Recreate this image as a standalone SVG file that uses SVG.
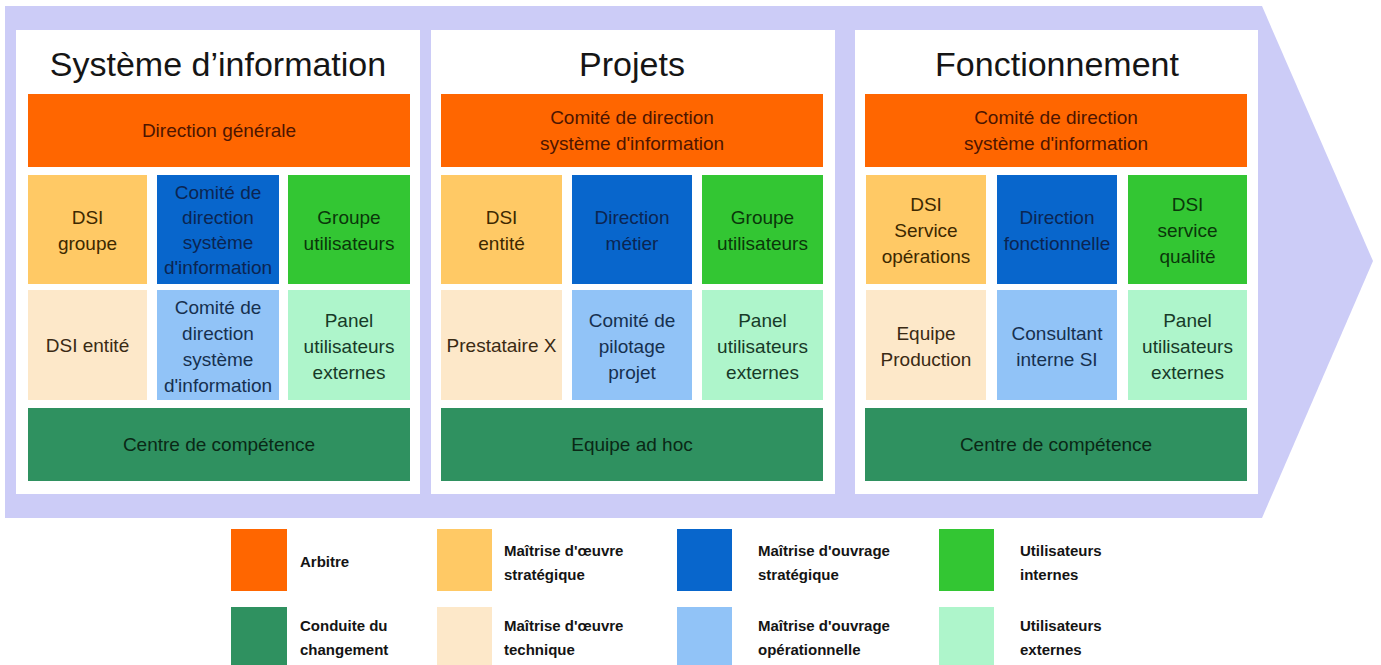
<svg xmlns="http://www.w3.org/2000/svg" width="1381" height="665" viewBox="0 0 1381 665">
<style>
text{font-family:"Liberation Sans",Arial,Helvetica,sans-serif;text-anchor:middle}
.title{font-size:34px;fill:#151515}
.t{font-size:19px}
.or{fill:#ff6600}.or-t{fill:#4d1500}
.lo{fill:#ffc965}.lo-t{fill:#3d2800}
.bl{fill:#0866cc}.bl-t{fill:#0b2552}
.gr{fill:#33c633}.gr-t{fill:#0a360a}
.pe{fill:#fde8c9}.pe-t{fill:#3a2a14}
.lb{fill:#91c3f7}.lb-t{fill:#16304f}
.lg{fill:#aef5cb}.lg-t{fill:#173a28}
.dg{fill:#2f9160}.dg-t{fill:#0a2816}
.panel{fill:#ffffff}
.lt{font-size:15px;font-weight:bold;fill:#141414;text-anchor:start}
</style>
<rect x="0" y="0" width="1381" height="665" fill="#ffffff"/>
<polygon id="arrow" points="5,6 1262,6 1373,261 1262,518 5,518" fill="#ccccf7"/>

<g id="panel-si">
<rect class="panel" x="16" y="30" width="404" height="464"/>
<text class="title" x="218" y="76">Système d’information</text>
</g>
<g id="si-direction-generale"><rect class="or" x="28" y="94" width="382" height="73"/><text class="t or-t" x="219" y="137">Direction générale</text></g>
<g id="si-dsi-groupe"><rect class="lo" x="28" y="175" width="119" height="109"/><text class="t lo-t" x="87.5"><tspan x="87.5" y="224">DSI</tspan><tspan x="87.5" y="250">groupe</tspan></text></g>
<g id="si-comite-1"><rect class="bl" x="157" y="175" width="122" height="109"/><text class="t bl-t"><tspan x="218" y="199">Comité de</tspan><tspan x="218" y="224">direction</tspan><tspan x="218" y="249">système</tspan><tspan x="218" y="274">d'information</tspan></text></g>
<g id="si-groupe-utilisateurs"><rect class="gr" x="288" y="175" width="122" height="109"/><text class="t gr-t"><tspan x="349" y="224">Groupe</tspan><tspan x="349" y="250">utilisateurs</tspan></text></g>
<g id="si-dsi-entite"><rect class="pe" x="28" y="290" width="119" height="110"/><text class="t pe-t" x="87.5" y="352">DSI entité</text></g>
<g id="si-comite-2"><rect class="lb" x="157" y="290" width="122" height="110"/><text class="t lb-t"><tspan x="218" y="314">Comité de</tspan><tspan x="218" y="340">direction</tspan><tspan x="218" y="366">système</tspan><tspan x="218" y="392">d'information</tspan></text></g>
<g id="si-panel"><rect class="lg" x="288" y="290" width="122" height="110"/><text class="t lg-t"><tspan x="349" y="327">Panel</tspan><tspan x="349" y="353">utilisateurs</tspan><tspan x="349" y="379">externes</tspan></text></g>
<g id="si-centre"><rect class="dg" x="28" y="408" width="382" height="73"/><text class="t dg-t" x="219" y="451">Centre de compétence</text></g>

<g id="panel-projets">
<rect class="panel" x="431" y="30" width="404" height="464"/>
<text class="title" x="632" y="76">Projets</text>
</g>
<g id="pr-comite"><rect class="or" x="441" y="94" width="382" height="73"/><text class="t or-t"><tspan x="632" y="124">Comité de direction</tspan><tspan x="632" y="150">système d'information</tspan></text></g>
<g id="pr-dsi-entite"><rect class="lo" x="441" y="175" width="121" height="109"/><text class="t lo-t"><tspan x="501.5" y="224">DSI</tspan><tspan x="501.5" y="250">entité</tspan></text></g>
<g id="pr-direction-metier"><rect class="bl" x="572" y="175" width="120" height="109"/><text class="t bl-t"><tspan x="632" y="224">Direction</tspan><tspan x="632" y="250">métier</tspan></text></g>
<g id="pr-groupe-utilisateurs"><rect class="gr" x="702" y="175" width="121" height="109"/><text class="t gr-t"><tspan x="762.5" y="224">Groupe</tspan><tspan x="762.5" y="250">utilisateurs</tspan></text></g>
<g id="pr-prestataire"><rect class="pe" x="441" y="290" width="121" height="110"/><text class="t pe-t" x="501.5" y="352">Prestataire X</text></g>
<g id="pr-comite-pilotage"><rect class="lb" x="572" y="290" width="120" height="110"/><text class="t lb-t"><tspan x="632" y="327">Comité de</tspan><tspan x="632" y="353">pilotage</tspan><tspan x="632" y="379">projet</tspan></text></g>
<g id="pr-panel"><rect class="lg" x="702" y="290" width="121" height="110"/><text class="t lg-t"><tspan x="762.5" y="327">Panel</tspan><tspan x="762.5" y="353">utilisateurs</tspan><tspan x="762.5" y="379">externes</tspan></text></g>
<g id="pr-equipe"><rect class="dg" x="441" y="408" width="382" height="73"/><text class="t dg-t" x="632" y="451">Equipe ad hoc</text></g>

<g id="panel-fonctionnement">
<rect class="panel" x="855" y="30" width="403" height="464"/>
<text class="title" x="1057" y="76">Fonctionnement</text>
</g>
<g id="fo-comite"><rect class="or" x="865" y="94" width="382" height="73"/><text class="t or-t"><tspan x="1056" y="124">Comité de direction</tspan><tspan x="1056" y="150">système d'information</tspan></text></g>
<g id="fo-dsi-operations"><rect class="lo" x="866" y="175" width="120" height="109"/><text class="t lo-t"><tspan x="926" y="211">DSI</tspan><tspan x="926" y="237">Service</tspan><tspan x="926" y="263">opérations</tspan></text></g>
<g id="fo-direction-fonctionnelle"><rect class="bl" x="997" y="175" width="120" height="109"/><text class="t bl-t"><tspan x="1057" y="224">Direction</tspan><tspan x="1057" y="250">fonctionnelle</tspan></text></g>
<g id="fo-dsi-qualite"><rect class="gr" x="1128" y="175" width="119" height="109"/><text class="t gr-t"><tspan x="1187.5" y="211">DSI</tspan><tspan x="1187.5" y="237">service</tspan><tspan x="1187.5" y="263">qualité</tspan></text></g>
<g id="fo-equipe-production"><rect class="pe" x="866" y="290" width="120" height="110"/><text class="t pe-t"><tspan x="926" y="340">Equipe</tspan><tspan x="926" y="366">Production</tspan></text></g>
<g id="fo-consultant"><rect class="lb" x="997" y="290" width="120" height="110"/><text class="t lb-t"><tspan x="1057" y="340">Consultant</tspan><tspan x="1057" y="366">interne SI</tspan></text></g>
<g id="fo-panel"><rect class="lg" x="1128" y="290" width="119" height="110"/><text class="t lg-t"><tspan x="1187.5" y="327">Panel</tspan><tspan x="1187.5" y="353">utilisateurs</tspan><tspan x="1187.5" y="379">externes</tspan></text></g>
<g id="fo-centre"><rect class="dg" x="865" y="408" width="382" height="73"/><text class="t dg-t" x="1056" y="451">Centre de compétence</text></g>

<g id="legend">
<g id="lg-arbitre"><rect class="or" x="231" y="529" width="56" height="62"/><text class="lt" x="300" y="567">Arbitre</text></g>
<g id="lg-moe-strat"><rect class="lo" x="437" y="529" width="55" height="62"/><text class="lt"><tspan x="504" y="556">Maîtrise d'œuvre</tspan><tspan x="504" y="580">stratégique</tspan></text></g>
<g id="lg-moa-strat"><rect class="bl" x="677" y="529" width="55" height="62"/><text class="lt"><tspan x="758" y="556">Maîtrise d'ouvrage</tspan><tspan x="758" y="580">stratégique</tspan></text></g>
<g id="lg-util-int"><rect class="gr" x="939" y="529" width="55" height="62"/><text class="lt"><tspan x="1020" y="556">Utilisateurs</tspan><tspan x="1020" y="580">internes</tspan></text></g>
<g id="lg-conduite"><rect class="dg" x="231" y="607" width="56" height="62"/><text class="lt"><tspan x="300" y="631">Conduite du</tspan><tspan x="300" y="655">changement</tspan></text></g>
<g id="lg-moe-tech"><rect class="pe" x="437" y="607" width="55" height="62"/><text class="lt"><tspan x="504" y="631">Maîtrise d'œuvre</tspan><tspan x="504" y="655">technique</tspan></text></g>
<g id="lg-moa-op"><rect class="lb" x="677" y="607" width="55" height="62"/><text class="lt"><tspan x="758" y="631">Maîtrise d'ouvrage</tspan><tspan x="758" y="655">opérationnelle</tspan></text></g>
<g id="lg-util-ext"><rect class="lg" x="939" y="607" width="55" height="62"/><text class="lt"><tspan x="1020" y="631">Utilisateurs</tspan><tspan x="1020" y="655">externes</tspan></text></g>
</g>
</svg>
